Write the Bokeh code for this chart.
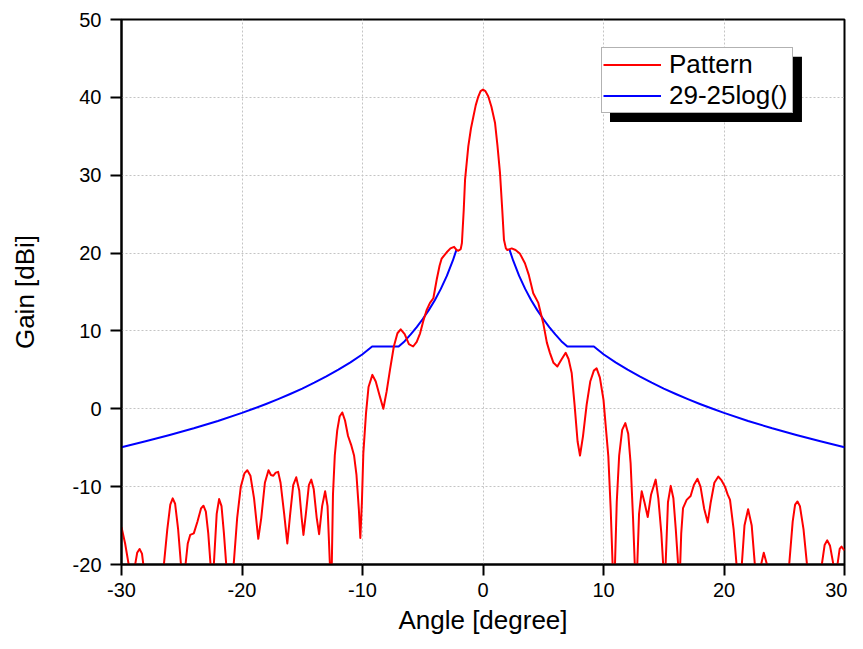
import math
from bokeh.plotting import figure
from bokeh.models import Legend, LegendItem, BoxAnnotation, FixedTicker, Range1d
from bokeh.embed import file_html
from bokeh.resources import INLINE

# Measured antenna pattern (angle in degrees, gain in dBi); values below -20 are clipped by the axis
pattern_angle = [
    -30.0, -29.7, -29.35, -29.1, -28.9, -28.7, -28.5, -28.3, -28.15, -27.3,
    -26.5, -26.2, -25.95, -25.75, -25.55, -25.3, -25.05, -24.9, -24.7, -24.5,
    -24.3, -24.0, -23.7, -23.4, -23.2, -23.0, -22.8, -22.6, -22.45, -22.3,
    -22.1, -21.9, -21.7, -21.5, -21.3, -21.0, -20.7, -20.4, -20.1, -19.8,
    -19.56, -19.3, -19.0, -18.65, -18.4, -18.1, -17.8, -17.6, -17.4, -17.2,
    -17.0, -16.8, -16.5, -16.24, -16.0, -15.75, -15.5, -15.25, -15.05, -14.9,
    -14.7, -14.45, -14.25, -14.05, -13.8, -13.6, -13.35, -13.1, -12.9, -12.7,
    -12.62, -12.55, -12.45, -12.3, -12.1, -11.9, -11.68, -11.45, -11.2, -10.95,
    -10.7, -10.5, -10.3, -10.18, -10.05, -9.93, -9.71, -9.5, -9.18, -8.9,
    -8.6, -8.27, -8.0, -7.72, -7.4, -7.1, -6.83, -6.5, -6.15, -5.8,
    -5.5, -5.22, -4.95, -4.67, -4.4, -4.12, -3.84, -3.6, -3.43, -3.01,
    -2.7, -2.4, -2.2, -2.05, -1.85, -1.75, -1.6, -1.49, -1.22, -1.0,
    -0.8, -0.6, -0.39, -0.2, 0.0, 0.2, 0.44, 0.7, 1.0, 1.2,
    1.41, 1.6, 1.74, 1.9, 2.02, 2.38, 2.7, 3.07, 3.48, 3.8,
    4.17, 4.59, 5.0, 5.3, 5.56, 5.85, 6.17, 6.5, 6.86, 7.1,
    7.36, 7.6, 7.85, 8.05, 8.3, 8.6, 8.9, 9.2, 9.43, 9.7,
    10.0, 10.2, 10.4, 10.6, 10.76, 10.85, 10.95, 11.1, 11.3, 11.55,
    11.81, 12.05, 12.25, 12.45, 12.6, 12.7, 12.8, 12.95, 13.17, 13.4,
    13.67, 13.95, 14.33, 14.55, 14.8, 14.96, 15.05, 15.15, 15.35, 15.58,
    15.8, 16.0, 16.2, 16.3, 16.45, 16.6, 16.9, 17.23, 17.5, 17.8,
    18.05, 18.35, 18.65, 18.9, 19.2, 19.53, 19.8, 20.08, 20.3, 20.5,
    20.8, 21.05, 21.25, 21.47, 21.7, 22.0, 22.3, 22.57, 22.8, 23.05,
    23.3, 23.6, 24.5, 25.4, 25.7, 25.9, 26.1, 26.3, 26.6, 26.9,
    27.5, 28.1, 28.35, 28.57, 28.8, 29.1, 29.25, 29.4, 29.6, 29.75,
    30.0,
]
pattern_gain = [
    -15.2, -17.3, -20.5, -24.0, -20.3, -18.5, -18.0, -18.6, -20.5, -30.0,
    -20.3, -15.5, -12.3, -11.5, -12.2, -15.5, -20.3, -23.0, -20.2, -17.3,
    -16.2, -16.0, -14.5, -12.8, -12.45, -13.2, -16.0, -20.2, -23.0, -19.0,
    -13.5, -11.6, -12.5, -16.0, -20.2, -24.0, -20.2, -14.0, -10.0, -8.3,
    -7.9, -8.6, -11.5, -16.7, -14.0, -9.5, -7.9, -8.5, -8.6, -8.2,
    -8.1, -9.5, -13.5, -17.3, -13.5, -9.8, -8.8, -10.5, -14.0, -16.2,
    -13.5, -9.8, -9.1, -10.3, -14.0, -16.1, -12.5, -10.6, -12.5, -20.2,
    -24.0, -20.2, -11.0, -6.0, -2.8, -1.0, -0.47, -1.5, -3.5, -4.6,
    -6.0, -8.5, -13.0, -16.6, -12.0, -5.7, -0.6, 2.8, 4.36, 3.5,
    1.8, 0.0, 2.2, 5.0, 8.0, 9.7, 10.2, 9.6, 8.3, 8.0,
    8.6, 9.7, 11.3, 12.7, 13.6, 14.2, 16.6, 18.4, 19.3, 20.1,
    20.6, 20.8, 20.4, 20.3, 20.5, 21.3, 25.5, 29.4, 33.7, 36.0,
    37.5, 39.0, 40.1, 40.8, 41.0, 40.8, 40.1, 38.8, 36.7, 33.8,
    30.3, 25.5, 21.7, 20.6, 20.4, 20.6, 20.4, 19.9, 18.7, 17.2,
    14.85, 13.6, 11.0, 8.5, 7.15, 5.9, 5.43, 6.3, 7.2, 6.4,
    4.6, 0.5, -4.2, -6.0, -3.5, 0.5, 3.5, 4.9, 5.2, 4.0,
    1.15, -2.5, -6.1, -13.0, -20.2, -24.0, -20.2, -12.0, -6.0, -2.7,
    -1.84, -3.2, -7.0, -14.0, -20.2, -23.0, -20.2, -13.5, -10.6, -12.0,
    -13.9, -11.0, -9.1, -11.5, -16.0, -20.2, -23.0, -20.2, -12.0, -9.9,
    -11.5, -15.5, -20.2, -23.0, -16.0, -12.75, -11.7, -11.2, -9.8, -9.0,
    -10.0, -12.8, -14.6, -12.0, -9.5, -8.7, -9.2, -10.0, -11.0, -11.7,
    -15.5, -20.2, -24.0, -20.2, -15.0, -12.9, -15.0, -20.2, -25.0, -20.2,
    -18.5, -20.2, -30.0, -20.2, -14.5, -12.3, -11.9, -12.5, -15.5, -20.2,
    -28.0, -20.2, -17.5, -16.9, -17.6, -20.2, -22.0, -20.2, -18.0, -17.7,
    -18.2,
]

# Reference envelope 29-25log(theta) (one side; mirrored for negative angles)
mask_angle = [2.2, 2.5, 3.0, 3.5, 4.0, 4.5, 5.0, 5.5, 6.0, 6.5, 7.0, 9.2,
              10.0, 11.0, 12.0, 13.0, 14.0, 15.0, 16.0, 17.0, 18.0, 19.0,
              20.0, 22.0, 24.0, 26.0, 28.0, 30.0]
mask_gain = [20.44, 19.05, 17.07, 15.40, 13.95, 12.67, 11.53, 10.49, 9.55, 8.68, 8.0, 8.0,
             7.0, 5.97, 5.02, 4.15, 3.35, 2.60, 1.90, 1.24, 0.62, 0.03,
             -0.53, -1.56, -2.51, -3.37, -4.18, -4.93]

x_ticks = [-30, -20, -10, 0, 10, 20, 30]
y_ticks = [-20, -10, 0, 10, 20, 30, 40, 50]

series_names = ["Pattern", "29-25log()"]

mask_x = [-a for a in reversed(mask_angle)] + [float("nan")] + list(mask_angle)
mask_y = list(reversed(mask_gain)) + [float("nan")] + list(mask_gain)

FONT = "Liberation Sans"

p = figure(width=847, height=640, output_backend="svg", toolbar_location=None,
           x_range=Range1d(-30, 30), y_range=Range1d(-20, 50),
           min_border_left=121, min_border_right=3, min_border_top=19, min_border_bottom=76)
p.background_fill_color = "white"
p.border_fill_color = "white"
p.outline_line_color = "black"
p.outline_line_width = 2

for ax in (p.xaxis[0], p.yaxis[0]):
    ax.axis_line_width = 2
    ax.axis_line_color = "black"
    ax.major_tick_line_width = 2
    ax.major_tick_out = 11
    ax.major_tick_in = 0
    ax.minor_tick_out = 0
    ax.minor_tick_in = 0
    ax.major_label_text_font = FONT
    ax.major_label_text_font_size = "20px"
    ax.major_label_text_color = "black"
    ax.axis_label_text_font = FONT
    ax.axis_label_text_font_size = "26px"
    ax.axis_label_text_font_style = "normal"
    ax.axis_label_text_color = "black"

p.xaxis.ticker = FixedTicker(ticks=x_ticks)
p.yaxis.ticker = FixedTicker(ticks=y_ticks)
p.xaxis.major_label_overrides = {t: str(t) for t in x_ticks}
p.yaxis.major_label_overrides = {t: str(t) for t in y_ticks}
p.xaxis.axis_label = "Angle [degree]"
p.yaxis.axis_label = "Gain [dBi]"
p.xaxis.major_label_standoff = 7
p.xaxis.axis_label_standoff = 5
p.yaxis.major_label_standoff = 9
p.yaxis.axis_label_standoff = 30

for g in (p.xgrid[0], p.ygrid[0]):
    g.grid_line_color = "#c4c4c4"
    g.grid_line_dash = "2 2"
    g.grid_line_width = 1

r_mask = p.line(mask_x, mask_y, line_color="blue", line_width=2, line_join="round")
r_pat = p.line(pattern_angle, pattern_gain, line_color="red", line_width=2, line_join="round")

# legend drop shadow
shadow = BoxAnnotation(left=10.54, right=26.47, top=45.2, bottom=36.84,
                       fill_color="black", fill_alpha=1.0, line_color=None)
p.add_layout(shadow)

legend = Legend(items=[LegendItem(label=series_names[0], renderers=[r_pat]),
                       LegendItem(label=series_names[1], renderers=[r_mask])],
                location=(480, 451))
legend.label_text_font = FONT
legend.label_text_font_size = "26px"
legend.label_text_color = "black"
legend.glyph_width = 58
legend.glyph_height = 29
legend.label_height = 29
legend.label_width = 122
legend.label_standoff = 8
legend.padding = 1
legend.margin = 0
legend.spacing = 0
legend.border_line_color = "#666666"
legend.border_line_width = 1
legend.background_fill_color = "white"
legend.background_fill_alpha = 1.0
p.add_layout(legend)

open("out.html", "w").write(file_html(p, INLINE))
